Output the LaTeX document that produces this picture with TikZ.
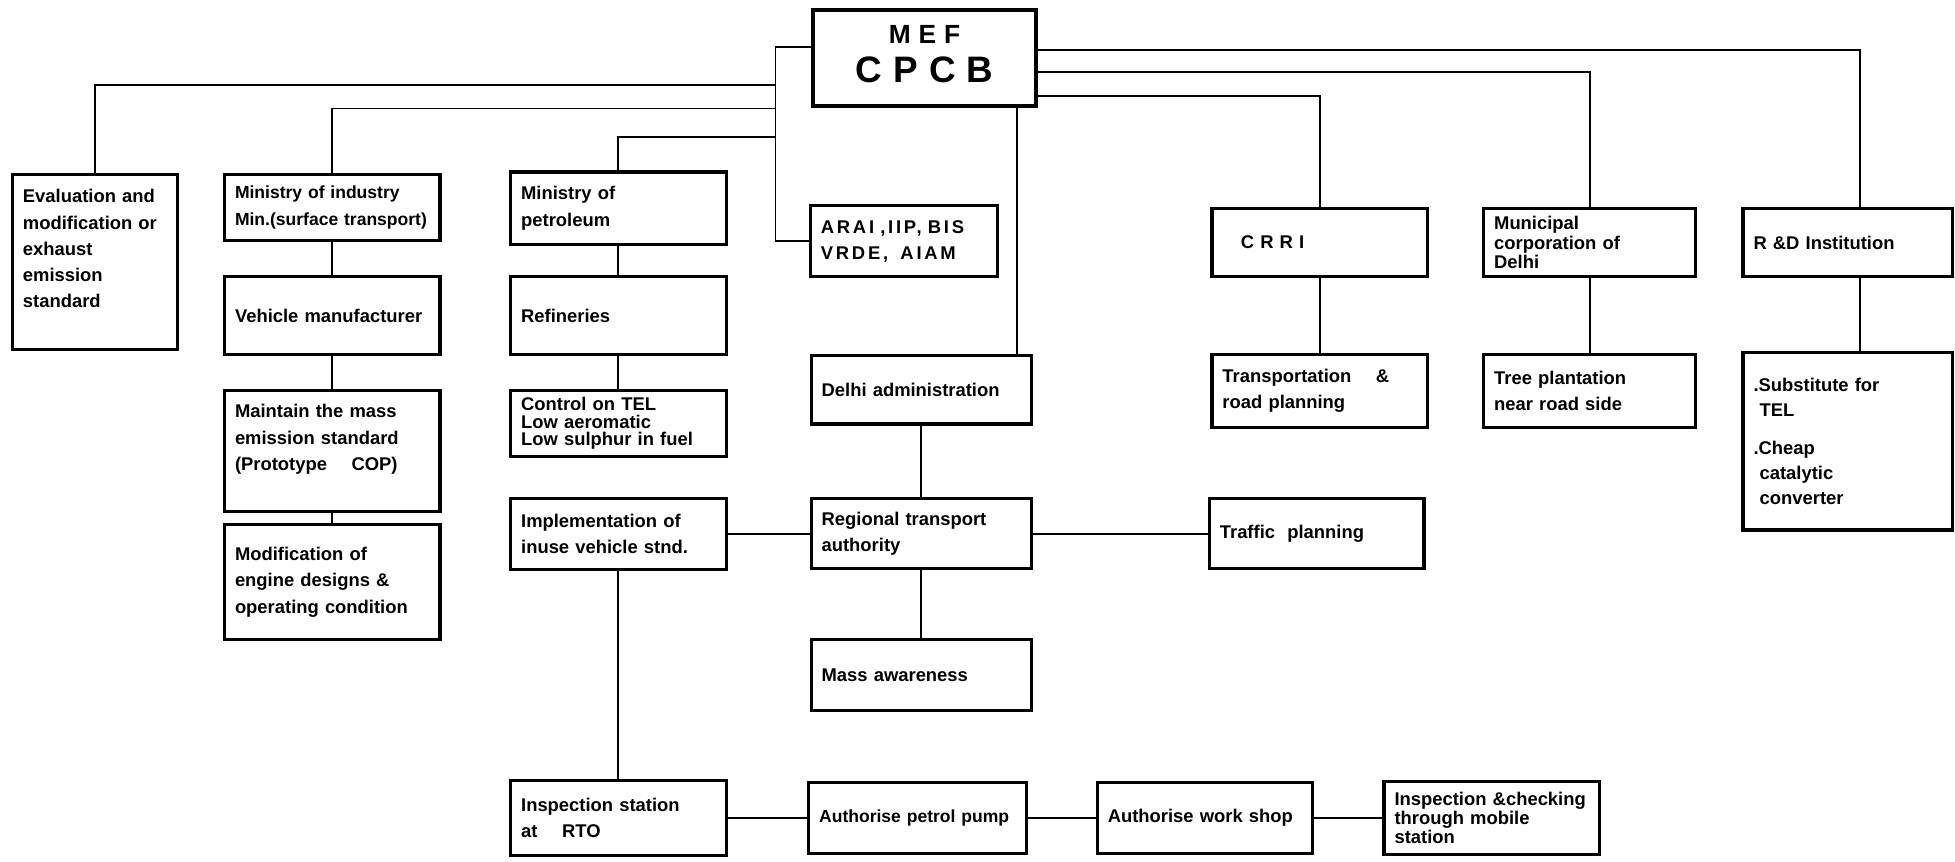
\documentclass[tikz,border=0pt]{standalone}
\usepackage{fontspec}
\setmainfont{Liberation Sans}
\newfontfamily\wide[LetterSpace=30]{Liberation Sans}
\newfontfamily\spaced[LetterSpace=15]{Liberation Sans}
\begin{document}
\begin{tikzpicture}[x=0.025cm, y=-0.025cm]
    \tikzset {
        box/.style = {draw, line width=1.8pt, inner xsep=6pt, inner ysep=2pt,
            text width=#1, align=left, font=\fontsize{10.5}{15}\selectfont\bfseries},
        box/.default = 3.9cm,
        tight/.style = {font=\fontsize{10.5}{11}\selectfont\bfseries},
        small/.style = {font=\fontsize{10}{15}\selectfont\bfseries},
        link/.style = {line width=1.1pt}
    }
    \useasboundingbox (0,0) rectangle (1568,691);

    \node[box=4.05cm, align=center, minimum height=1.925cm] (mef) at (741.5,46.5)
        {\wide\begin{tabular}{@{}c@{}}
            \fontsize{15}{18}\selectfont MEF\\[3pt]
            \fontsize{21}{25}\selectfont CPCB
         \end{tabular}\hspace*{6pt}};

    \node[box=2.88cm, minimum height=3.5cm] (eval) at (76,210)
        {Evaluation and\\ modification or\\ exhaust\\ emission\\ standard\\ \mbox{}};
    \node[box, small, minimum height=1.325cm] (minind) at (266.5,166.5)
        {Ministry of industry\\ Min.(surface transport)};
    \node[box, minimum height=1.55cm] (vehman) at (266.5,253) {Vehicle manufacturer};
    \node[box, minimum height=2.425cm] (maint) at (266.5,361.5)
        {Maintain the mass\\ emission standard\\ (Prototype \quad COP)\\ \mbox{}};
    \node[box, minimum height=2.3cm] (modif) at (266.5,467)
        {Modification of\\ engine designs \&\\ operating condition};

    \node[box, minimum height=1.45cm] (minpet) at (496,167) {Ministry of\\ petroleum};
    \node[box, minimum height=1.55cm] (refin) at (496,253) {Refineries};
    \node[box, minimum height=1.325cm, font=\fontsize{10.5}{10}\selectfont\bfseries] (ctrl) at (496,339.5)
        {Control on TEL\\ Low aeromatic\\ Low sulphur in fuel};
    \node[box, minimum height=1.425cm] (impl) at (496,428)
        {Implementation of\\ inuse vehicle stnd.};
    \node[box, minimum height=1.5cm] (insp) at (496,656)
        {Inspection station\\ at \quad RTO};

    \node[box=3.33cm, minimum height=1.425cm] (arai) at (725,193.5)
        {\spaced ARAI ,IIP, BIS\\ VRDE,\ \ AIAM};
    \node[box=4.0cm, minimum height=1.375cm] (delhi) at (739,312.5) {Delhi administration};
    \node[box=4.0cm, minimum height=1.4cm] (rta) at (739,428)
        {Regional transport\\ authority};
    \node[box=4.0cm, minimum height=1.425cm] (mass) at (739,541.5) {Mass awareness};
    \node[box=3.95cm, small, minimum height=1.425cm] (petrol) at (736,656) {Authorise petrol pump};
    \node[box, minimum height=1.425cm] (work) at (966.5,656) {Authorise work shop};
    \node[box, tight, minimum height=1.475cm] (mobile) at (1196.5,656)
        {Inspection \&checking\\ through mobile\\ station};
    \node[box=3.88cm, minimum height=1.4cm] (traffic) at (1056,428) {Traffic \ planning};

    \node[box, minimum height=1.375cm] (crri) at (1058.5,194.5) {\quad\spaced C R R I};
    \node[box, minimum height=1.475cm] (transp) at (1058.5,313.5)
        {Transportation \quad \&\\ road planning};
    \node[box=3.83cm, tight, minimum height=1.375cm] (munic) at (1275,194.5)
        {Municipal\\ corporation of\\ Delhi};
    \node[box=3.83cm, minimum height=1.475cm] (tree) at (1275,313.5)
        {Tree plantation\\ near road side};
    \node[box=3.78cm, minimum height=1.375cm] (rnd) at (1482,194.5) {R \&D Institution};
    \node[box=3.78cm, font=\fontsize{10.5}{14}\selectfont\bfseries, minimum height=3.55cm] (subst) at (1482,354)
        {.Substitute for\\ \ TEL\\[8pt] .Cheap\\ \ catalytic\\ \ converter};

    \coordinate (lt) at (622,38);
    \coordinate (b1) at (622,68);
    \coordinate (b2) at (622,87);
    \coordinate (b3) at (622,110);
    \coordinate (md) at (816,85);
    \coordinate (rx) at (1492,0);

    \draw[link] (mef.west |- lt) -- (lt) |- (arai.west);
    \draw[link] (b1) -| (eval.north);
    \draw[link] (b2) -| (minind.north);
    \draw[link] (b3) -| (minpet.north);
    \draw[link] (mef.east |- 0,40) -| (rx |- rnd.north);
    \draw[link] (mef.east |- 0,58) -| (munic.north);
    \draw[link] (mef.east |- 0,77) -| (crri.north);
    \draw[link] (md) -- (md |- delhi.north);

    \draw[link] (minind.south) -- (vehman.north);
    \draw[link] (vehman.south) -- (maint.north);
    \draw[link] (maint.south) -- (modif.north);
    \draw[link] (minpet.south) -- (refin.north);
    \draw[link] (refin.south) -- (ctrl.north);
    \draw[link] (impl.south) -- (insp.north);
    \draw[link] (delhi.south) -- (rta.north);
    \draw[link] (rta.south) -- (mass.north);
    \draw[link] (impl.east) -- (rta.west);
    \draw[link] (rta.east) -- (traffic.west);
    \draw[link] (insp.east) -- (petrol.west);
    \draw[link] (petrol.east) -- (work.west);
    \draw[link] (work.east) -- (mobile.west);
    \draw[link] (crri.south) -- (transp.north);
    \draw[link] (munic.south) -- (tree.north);
    \draw[link] (rx |- rnd.south) -- (rx |- subst.north);
\end{tikzpicture}
\end{document}
